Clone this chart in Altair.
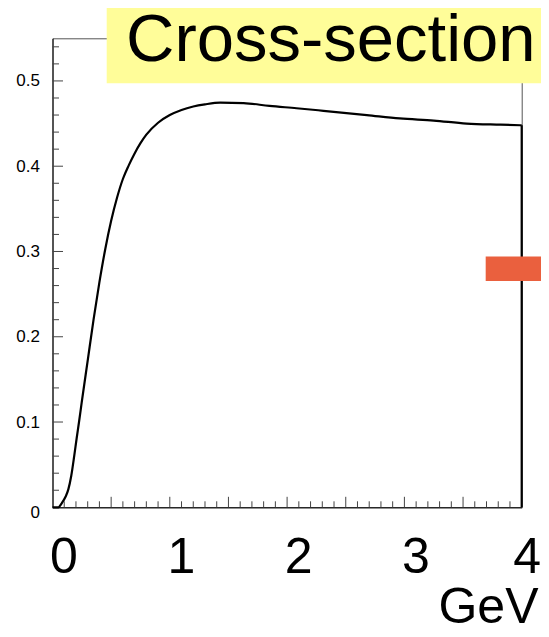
import altair as alt
import pandas as pd

# ---- data ----
energy = [0.0, 0.05, 0.08, 0.11, 0.135, 0.16, 0.185, 0.206, 0.226, 0.249,
          0.30, 0.35, 0.40, 0.45, 0.50, 0.55, 0.60, 0.65, 0.70, 0.75,
          0.80, 0.90, 1.00, 1.10, 1.20, 1.30, 1.43, 1.63, 1.85, 2.08,
          2.31, 2.68, 2.96, 3.25, 3.53, 3.82, 4.0]
xsec = [0.0, 0.0, 0.005, 0.012, 0.021, 0.037, 0.060, 0.081, 0.100, 0.123,
        0.172, 0.220, 0.264, 0.303, 0.336, 0.363, 0.385, 0.401, 0.415, 0.427,
        0.437, 0.451, 0.460, 0.466, 0.470, 0.4725, 0.4745, 0.474, 0.4707, 0.468,
        0.465, 0.460, 0.456, 0.4535, 0.450, 0.4487, 0.448]

last_bin_x = [4.0]
last_bin_y = [0.448]

marker_x = [3.693, 4.3]
marker_y = [0.2654, 0.294]

x_labels = [0, 1, 2, 3, 4]
y_labels = [0, 0.1, 0.2, 0.3, 0.4, 0.5]
x_major_ticks = [0.5, 1.0, 1.5, 2.0, 2.5, 3.0, 3.5]
x_minor_ticks = [round(i * 0.1, 2) for i in range(1, 40) if i % 5 != 0]
y_major_ticks = [0.1, 0.2, 0.3, 0.4, 0.5]
y_minor_ticks = [round(i * 0.02, 3) for i in range(1, 28) if i % 5 != 0]

title_text = "Cross-section"
unit_text = "GeV"

FONT = "Liberation Sans"
W, H = 469.2, 469

xscale = alt.Scale(domain=[0, 4], nice=False, zero=False)
yscale = alt.Scale(domain=[0, 0.55], nice=False, zero=False)

x_axis = alt.Axis(values=x_labels, format="d", title=None, grid=False,
                  ticks=False, tickSize=0, labelFont=FONT, labelFontSize=50,
                  labelColor="black", labelBaseline="alphabetic", labelPadding=65,
                  labelOffset={"condition": {"test": "datum.value == 4", "value": 5}, "value": 11},
                  labelFlush=False, labelOverlap=False,
                  domainColor="black", domainWidth=1)
y_axis = alt.Axis(values=y_labels, title=None, grid=False, ticks=False, tickSize=0,
                  labelExpr="datum.value == 0 ? '0' : format(datum.value, '.1f')",
                  labelFont=FONT, labelFontSize=17, labelColor="black",
                  labelPadding=13,
                  labelOffset={"condition": {"test": "datum.value == 0", "value": 5}, "value": 0},
                  domainColor="black", domainWidth=1)

curve_df = pd.DataFrame({"x": energy, "y": xsec})
xmaj_df = pd.DataFrame({"x": x_major_ticks})
xmin_df = pd.DataFrame({"x": x_minor_ticks})
ymaj_df = pd.DataFrame({"y": y_major_ticks})
ymin_df = pd.DataFrame({"y": y_minor_ticks})
drop_df = pd.DataFrame({"x": last_bin_x, "y": [0.0], "y2": last_bin_y})
marker_df = pd.DataFrame({"x": [marker_x[0]], "x2": [marker_x[1]],
                          "y": [marker_y[0]], "y2": [marker_y[1]]})
one = pd.DataFrame({"a": [0]})

X = lambda f: alt.X(f, type="quantitative", scale=xscale, axis=x_axis)
Y = lambda f: alt.Y(f, type="quantitative", scale=yscale, axis=y_axis)

tick_col = "#444444"

xmaj = alt.Chart(xmaj_df).mark_rule(color=tick_col, strokeWidth=1).encode(
    x=X("x"), y=alt.value(H), y2=alt.value(H - 10.5))
xmin = alt.Chart(xmin_df).mark_rule(color=tick_col, strokeWidth=1).encode(
    x=X("x"), y=alt.value(H), y2=alt.value(H - 6))
ymaj = alt.Chart(ymaj_df).mark_rule(color=tick_col, strokeWidth=1).encode(
    y=Y("y"), x=alt.value(0), x2=alt.value(10.5))
ymin = alt.Chart(ymin_df).mark_rule(color=tick_col, strokeWidth=1).encode(
    y=Y("y"), x=alt.value(0), x2=alt.value(6.5))

curve = alt.Chart(curve_df).mark_line(color="black", strokeWidth=2.2,
                                      interpolate="monotone").encode(
    x=X("x"), y=Y("y"), order="x:Q")
drop = alt.Chart(drop_df).mark_rule(color="black", strokeWidth=2.2).encode(
    x=X("x"), y=Y("y"), y2="y2:Q")

marker = alt.Chart(marker_df).mark_rect(color="#EA603E", clip=False).encode(
    x=X("x"), x2="x2:Q", y=Y("y"), y2="y2:Q")

title_box = alt.Chart(one).mark_rect(color="#FFFD99").encode(
    x=alt.value(54.2), x2=alt.value(500), y=alt.value(-40), y2=alt.value(45))
title = alt.Chart(one).mark_text(text=title_text, font=FONT, fontSize=67,
                                 align="left", baseline="alphabetic",
                                 color="black").encode(
    x=alt.value(73.5), y=alt.value(22.7))
unit = alt.Chart(one).mark_text(text=unit_text, font=FONT, fontSize=50,
                                align="right", baseline="alphabetic",
                                color="black").encode(
    x=alt.value(486), y=alt.value(584.7))

chart = alt.layer(xmin, xmaj, ymin, ymaj, curve, drop, marker,
                  title_box, title, unit).properties(
    width=W, height=H,
    autosize=alt.AutoSizeParams(type="none"),
    padding={"left": 44.5, "top": 30.3, "right": 19.3, "bottom": 117.7},
    background="white",
).configure_view(stroke="#555555", strokeWidth=1)

chart.save("out.html", embed_options={"renderer": "svg", "actions": False})
